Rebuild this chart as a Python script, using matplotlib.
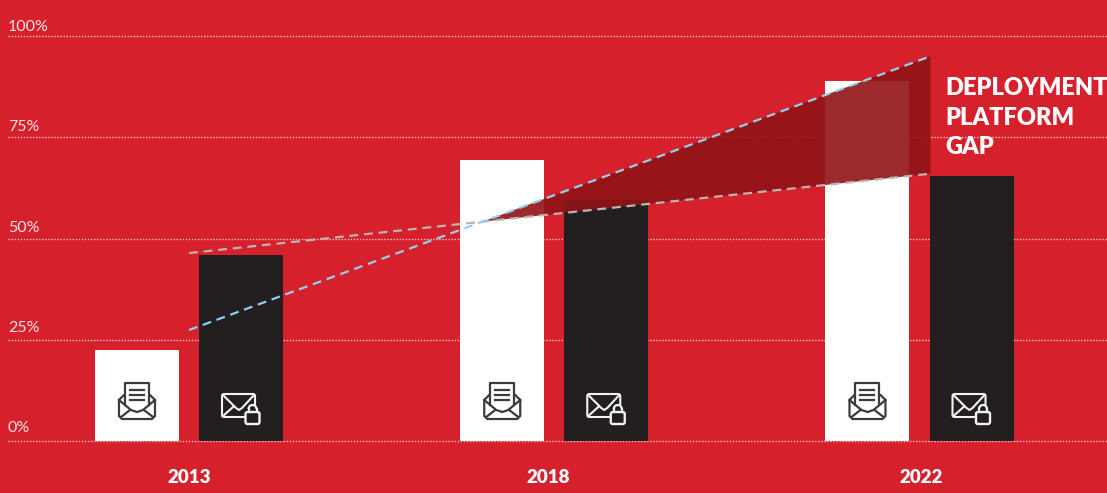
import matplotlib
matplotlib.use("Agg")
import matplotlib.pyplot as plt
from matplotlib.patches import Polygon, Rectangle, FancyBboxPatch, Arc
from matplotlib.transforms import Affine2D

years = ["2013", "2018", "2022"]
open_email = [22.5, 69.5, 89.0]
secured_email = [46.0, 59.5, 65.5]
y_ticks = [0, 25, 50, 75, 100]
y_labels = ["0%", "25%", "50%", "75%", "100%"]

# trend lines, given at the group position where they start and stop
trend_x = [0.0, 2.03]
trend_open = [27.4, 95.0]
trend_secured = [46.4, 66.0]

RED = "#d6202c"
BLACK = "#231f20"
BAR_W = 0.23
OFFSET = 0.1424

fig = plt.figure(figsize=(11.07, 4.93), dpi=100, facecolor=RED)
ax = fig.add_axes([8 / 1107, 0, 1099 / 1107, 1], facecolor=RED)
ax.set_xlim((8 - 189) / 365.25, (1107 - 189) / 365.25)
ax.set_ylim(-(493 - 441) / 4.05, 441 / 4.05)
for s in ax.spines.values():
    s.set_visible(False)
ax.tick_params(length=0, labelbottom=False, labelleft=False)
ax.set_yticks(y_ticks)
ax.set_xticks([])
ax.yaxis.grid(True, color="#f3c6ca", lw=1.0, linestyle=(0, (1, 1.2)), zorder=1)
ax.set_axisbelow(True)

x = list(range(len(years)))
ax.bar([i - OFFSET for i in x], open_email, BAR_W, color="white", zorder=2)
ax.bar([i + OFFSET for i in x], secured_email, BAR_W, color=BLACK, zorder=2)


def line_at(v):
    return trend_x[0] + v * (trend_x[1] - trend_x[0])


# where the two trend lines cross, the gap wedge opens from there
t = (trend_secured[0] - trend_open[0]) / (
    (trend_open[1] - trend_open[0]) - (trend_secured[1] - trend_secured[0]))
cross_x = line_at(t)
cross_y = trend_open[0] + t * (trend_open[1] - trend_open[0])
ax.fill([cross_x, trend_x[1], trend_x[1]], [cross_y, trend_open[1], trend_secured[1]],
        color="#911316", alpha=0.9, lw=0, zorder=3)
ax.plot(trend_x, trend_secured, color="#bcb3b4", lw=1.6, linestyle=(0, (4, 2.6)), zorder=4)
ax.plot(trend_x, trend_open, color="#8fd1ec", lw=1.6, linestyle=(0, (4, 2.6)), zorder=4)

for val, lab in zip(y_ticks, y_labels):
    ax.text(0, val + 2.2 - val * 0.01, lab, transform=ax.get_yaxis_transform(), ha="left",
            va="baseline", color="#f9e3e5", fontsize=11.5, family="Lato")

# the year labels do not sit exactly under their groups
label_shift = [0, -6, 1.5]
for i, yr, dx in zip(x, years, label_shift):
    ax.text(i + dx / 365.25, -9.1, yr, ha="center", va="center", color="white", fontsize=13.5,
            family="Lato", fontweight="heavy")

ax.text(945, 493 - 95, "DEPLOYMENT", transform=None, ha="left", va="baseline",
        color="white", fontsize=17, family="Lato", fontweight="heavy")
ax.text(945, 493 - 125, "PLATFORM", transform=None, ha="left", va="baseline",
        color="white", fontsize=17, family="Lato", fontweight="heavy")
ax.text(945, 493 - 154, "GAP", transform=None, ha="left", va="baseline",
        color="white", fontsize=17, family="Lato", fontweight="heavy")


def icon_transform(bar_x):
    # icon shapes are in pixels, measured from the bar centre at the baseline
    cx, cy = ax.transData.transform((bar_x, 0))
    return Affine2D().translate(cx, cy)


def open_envelope(bar_x, color="#3b3b3b"):
    tr = icon_transform(bar_x)
    lw = 1.6
    ax.add_patch(Polygon([(-18, 41), (-18, 25), (-15, 22), (15, 22), (18, 25), (18, 41),
                          (13, 46), (-13, 46)], closed=True, transform=tr, fill=False,
                         ec=color, lw=lw, zorder=5))
    ax.add_patch(Polygon([(-12, 36), (-12, 58), (12, 58), (12, 36)], closed=True,
                         transform=tr, fc="white", ec="none", zorder=5))
    ax.plot([-12, -12, 12, 12], [36, 58, 58, 36], color=color, lw=lw, transform=tr, zorder=6)
    ax.plot([-18, -6, 0, 6, 18], [41, 31, 29, 31, 41], color=color, lw=lw, transform=tr, zorder=6)
    ax.plot([-16, -7], [24, 31], color=color, lw=lw, transform=tr, zorder=6)
    ax.plot([16, 7], [24, 31], color=color, lw=lw, transform=tr, zorder=6)
    for h in (51, 46, 41):
        ax.plot([-7, 7], [h, h], color=color, lw=lw, transform=tr, zorder=6)


def locked_envelope(bar_x, color="#f2f2f2"):
    tr = icon_transform(bar_x)
    lw = 1.5
    ax.add_patch(FancyBboxPatch((-19, 24), 33, 23, boxstyle="round,pad=0,rounding_size=2",
                                transform=tr, fill=False, ec=color, lw=lw, zorder=5))
    ax.plot([-18, -5, -2, 1, 13], [46, 33, 31, 33, 46], color=color, lw=lw, transform=tr, zorder=6)
    ax.plot([-18, -8], [25, 34], color=color, lw=lw, transform=tr, zorder=6)
    ax.add_patch(FancyBboxPatch((4.5, 17), 14, 12, boxstyle="round,pad=0,rounding_size=2",
                                transform=tr, fc=BLACK, ec=color, lw=1.7, zorder=7))
    ax.add_patch(Rectangle((6, 29), 11, 7, transform=tr, fc=BLACK, ec="none", zorder=6.5))
    ax.plot([7.5, 7.5], [29, 32], color=color, lw=1.6, transform=tr, zorder=7)
    ax.plot([15.5, 15.5], [29, 32], color=color, lw=1.6, transform=tr, zorder=7)
    ax.add_patch(Arc((11.5, 32), 8, 8, theta1=0, theta2=180, transform=tr, ec=color, lw=1.6, zorder=7))


for i in x:
    open_envelope(i - OFFSET)
    locked_envelope(i + OFFSET)

fig.savefig("out.png", dpi=100, facecolor=RED)
